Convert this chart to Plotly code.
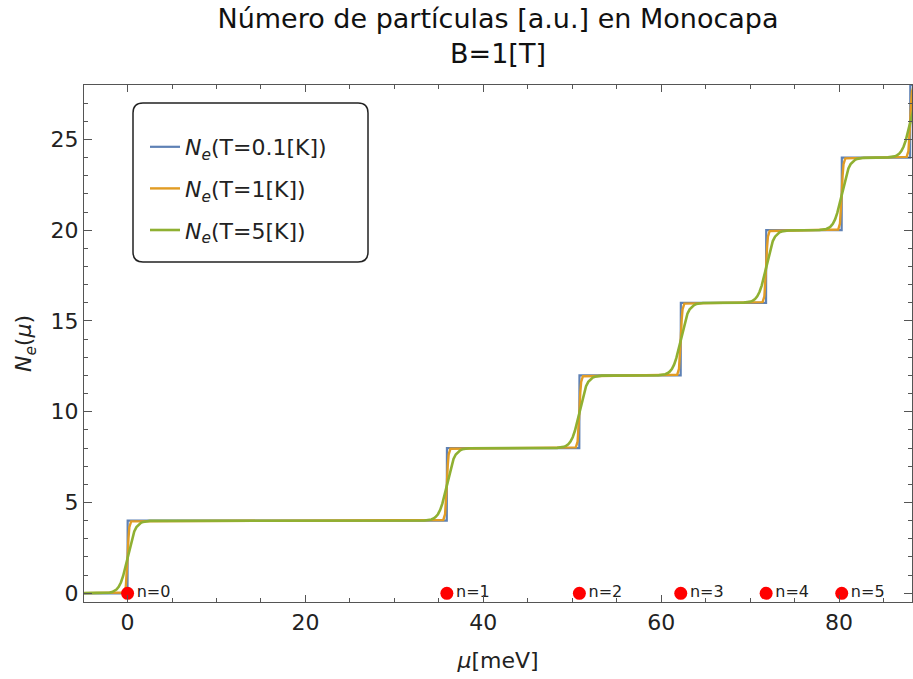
import plotly.graph_objects as go

# ---------------- data ----------------
level_energies = [0.0, 35.9, 50.8, 62.2, 71.8, 80.3, 88.0]   # meV, Landau levels n=0..6
level_labels = ["n=0", "n=1", "n=2", "n=3", "n=4", "n=5"]
marker_energies = [0.0, 35.9, 50.8, 62.2, 71.8, 80.3]
marker_values = [0, 0, 0, 0, 0, 0]
step_height = 4          # particles added at each level
mu_start, mu_end = -6.0, 92.0

# transition profiles across one level (offset from level [meV], filled fraction)
blue_offsets = [-0.01, 0.01]
blue_fraction = [0.0, 1.0]
orange_offsets = [-0.4, -0.2, -0.1, 0.0, 0.1, 0.2, 0.4]
orange_fraction = [0.01, 0.09, 0.24, 0.5, 0.76, 0.91, 0.99]
green_offsets = [-2.5, -2.25, -2.0, -1.75, -1.5, -1.25, -1.0, -0.75, -0.5, -0.25, 0.0,
                 0.25, 0.5, 0.75, 1.0, 1.25, 1.5, 1.75, 2.0, 2.25, 2.5]
green_fraction = [0.003, 0.005, 0.009, 0.017, 0.030, 0.052, 0.089, 0.149, 0.238, 0.359, 0.5,
                  0.641, 0.762, 0.851, 0.911, 0.948, 0.970, 0.983, 0.991, 0.995, 0.997]

series_names = ["<i>N<sub>e</sub></i>(T=0.1[K])", "<i>N<sub>e</sub></i>(T=1[K])", "<i>N<sub>e</sub></i>(T=5[K])"]
series_colors = ["#5E81B5", "#E19C24", "#8FB032"]
series_widths = [2.2, 2.4, 2.6]
title_text = "Número de partículas [a.u.] en Monocapa<br>B=1[T]"

FONT = "DejaVu Sans, Liberation Sans, Arial, sans-serif"


def staircase(offsets, fractions):
    xs, ys = [mu_start], [0.0]
    for i, e in enumerate(level_energies):
        for o, f in zip(offsets, fractions):
            xs.append(e + o)
            ys.append(step_height * (i + f))
    xs.append(mu_end)
    ys.append(step_height * len(level_energies))
    return xs, ys


profiles = [(blue_offsets, blue_fraction), (orange_offsets, orange_fraction), (green_offsets, green_fraction)]

fig = go.Figure()
for k, (offs, fr) in enumerate(profiles):
    xs, ys = staircase(offs, fr)
    fig.add_trace(go.Scatter(
        x=xs, y=ys, mode="lines", name=series_names[k],
        line=dict(color=series_colors[k], width=series_widths[k]),
        legendgroup=f"g{k}",
    ))

fig.add_trace(go.Scatter(
    x=marker_energies, y=marker_values, mode="markers+text",
    text=level_labels, textposition="middle right",
    textfont=dict(size=16, color="#222222", family=FONT),
    marker=dict(color="#FF0000", size=13),
    cliponaxis=False, showlegend=False,
))

W, H = 913, 679
L, R, T, B = 84, 1, 85, 77
pw, ph = W - L - R, H - T - B

axis_common = dict(
    showline=True, linecolor="#555555", linewidth=1.3, mirror="allticks",
    ticks="inside", tickcolor="#555555", tickwidth=1.2,
    showgrid=False, zeroline=False,
    tickfont=dict(size=22, color="#222222", family=FONT),
)

fig.update_xaxes(
    range=[-4.9, 88.2], tick0=0, dtick=20, ticklen=7,
    minor=dict(ticks="inside", dtick=5, tick0=0, ticklen=4, tickcolor="#555555", showgrid=False),
    title=dict(text="<i>μ</i>[meV]", font=dict(size=22, color="#222222", family=FONT), standoff=19),
    **axis_common,
)
fig.update_yaxes(
    range=[-0.48, 28.0], tick0=0, dtick=5, ticklen=8,
    minor=dict(ticks="inside", dtick=1, tick0=0, ticklen=4, tickcolor="#555555", showgrid=False),
    title=dict(text="<i>N<sub>e</sub></i>(<i>μ</i>)", font=dict(size=22, color="#222222", family=FONT), standoff=12),
    **axis_common,
)

# rounded legend frame (pixel -> paper)
x0p, x1p, y0p, y1p, rr = 133, 368, 103, 262, 10
def px(xp):
    return (xp - L) / pw
def py(yp):
    return (H - B - yp) / ph
rx, ry = rr / pw, rr / ph
a, b, c, d = px(x0p), px(x1p), py(y0p), py(y1p)
path = (f"M {a+rx},{c} L {b-rx},{c} Q {b},{c} {b},{c-ry} L {b},{d+ry} Q {b},{d} {b-rx},{d} "
        f"L {a+rx},{d} Q {a},{d} {a},{d+ry} L {a},{c-ry} Q {a},{c} {a+rx},{c} Z")
fig.add_shape(type="path", path=path, xref="paper", yref="paper",
              line=dict(color="#222222", width=1.5), fillcolor="rgba(255,255,255,0.9)", layer="below")

fig.update_layout(
    width=W, height=H,
    margin=dict(l=L, r=R, t=T, b=B, pad=0),
    plot_bgcolor="white", paper_bgcolor="white",
    title=dict(text=title_text, x=0.5, xref="paper", xanchor="center",
               y=1 - 27.5 / H, yref="container", yanchor="middle",
               font=dict(size=27, color="#111111", family=FONT)),
    showlegend=True,
    legend=dict(x=px(145), y=py(126), xanchor="left", yanchor="top",
                bgcolor="rgba(0,0,0,0)", borderwidth=0, tracegroupgap=10,
                font=dict(size=22, color="#222222", family=FONT)),
    font=dict(family=FONT),
)

fig.write_html("out.html")
